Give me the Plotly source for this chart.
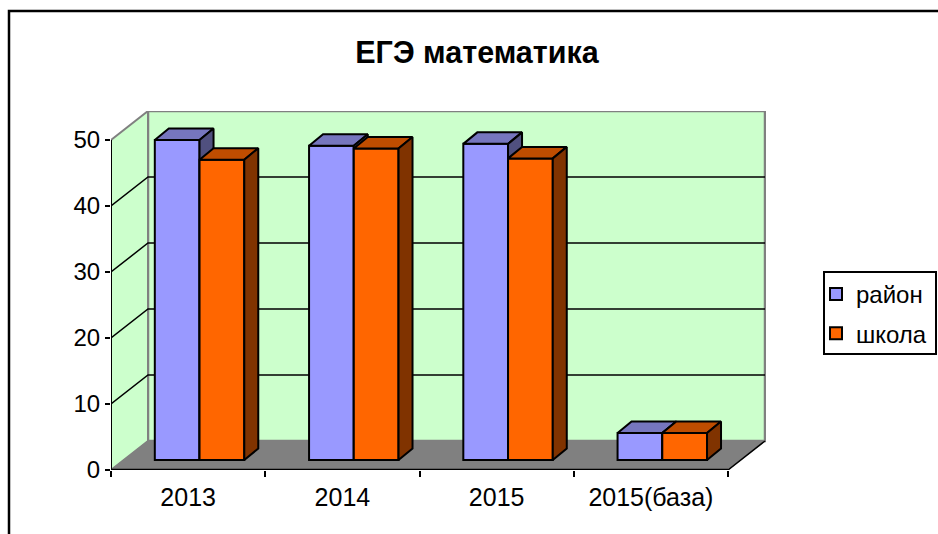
import plotly.graph_objects as go

categories = ["2013", "2014", "2015", "2015(база)"]
rayon = [48.5, 47.6, 47.9, 4.1]
shkola = [45.5, 47.2, 45.7, 4.1]
y_ticks = [0, 10, 20, 30, 40, 50]

# plot geometry in pixels
L, R, T, B = 111, 766, 111, 470
PX_X, PX_Y = 154.25, 6.6
WALL_DX, WALL_DY = 37 / PX_X, 29 / PX_Y
BAR_DX, BAR_DY = 14 / PX_X, 11.5 / PX_Y
BASE = 10 / PX_Y
BAR_W = 0.29
BAR_LEFT = 0.284
X_MAX = (R - L) / PX_X
Y_MAX = (B - T) / PX_Y
N = len(categories)
TOP = max(y_ticks)
FONT = "Liberation Sans, Arial, sans-serif"
WALL, GREY = "#CCFFCC", "#808080"
BLACK = "#000000"

fig = go.Figure()


def poly(xs, ys, fill, line=BLACK, w=2, xa="x", ya="y"):
    fig.add_trace(go.Scatter(x=xs, y=ys, mode="lines", fill="toself", fillcolor=fill,
                             line=dict(color=line, width=w), showlegend=False,
                             hoverinfo="skip", xaxis=xa, yaxis=ya, cliponaxis=False))


def line(xs, ys, color=BLACK, w=2):
    fig.add_trace(go.Scatter(x=xs, y=ys, mode="lines", line=dict(color=color, width=w),
                             showlegend=False, hoverinfo="skip", cliponaxis=False))


# walls and floor
poly([WALL_DX, N + WALL_DX, N + WALL_DX, WALL_DX, WALL_DX],
     [WALL_DY, WALL_DY, TOP + WALL_DY, TOP + WALL_DY, WALL_DY], WALL, GREY, 2.5)
poly([0, WALL_DX, WALL_DX, 0, 0], [0, WALL_DY, TOP + WALL_DY, TOP, 0], WALL, GREY, 2)
poly([0, N, N + WALL_DX, WALL_DX, 0], [0, 0, WALL_DY, WALL_DY, 0], GREY, GREY, 1)
for v in y_ticks[1:-1]:
    line([0, WALL_DX, N + WALL_DX], [v, v + WALL_DY, v + WALL_DY], BLACK, 1.5)
line([N, N + WALL_DX], [0, WALL_DY], BLACK, 1.5)
line([0, 0], [0, TOP], BLACK, 2)
line([0, N], [0, 0], BLACK, 2.5)


def series(values, name, front, top, side, shift, xa, ya):
    xs = [i + BAR_LEFT + shift * BAR_W + BAR_W / 2 for i in range(N)]
    fig.add_trace(go.Bar(x=xs, y=values, base=BASE, width=BAR_W, name=name,
                         marker=dict(color=front, line=dict(color=BLACK, width=2)),
                         legendgroup=name, hoverinfo="skip", xaxis=xa, yaxis=ya))
    for xc, v in zip(xs, values):
        x0, x1 = xc - BAR_W / 2, xc + BAR_W / 2
        yt = BASE + v
        poly([x0, x1, x1 + BAR_DX, x0 + BAR_DX, x0],
             [yt, yt, yt + BAR_DY, yt + BAR_DY, yt], top, xa=xa, ya=ya)
        poly([x1, x1 + BAR_DX, x1 + BAR_DX, x1, x1],
             [BASE, BASE + BAR_DY, yt + BAR_DY, yt, BASE], side, xa=xa, ya=ya)


series(rayon, "район", "#9999FF", "#7676BE", "#50507F", 0, "x2", "y2")
series(shkola, "школа", "#FF6600", "#BF4D00", "#803300", 1, "x3", "y3")


def px(x):
    return (x - L) / (R - L)


def py(y):
    return (B - y) / (B - T)


fig.update_layout(
    width=938, height=534,
    margin=dict(l=L, r=938 - R, t=T, b=534 - B, autoexpand=False),
    paper_bgcolor="white", plot_bgcolor="white",
    font=dict(family=FONT, size=24, color=BLACK),
    title=dict(text="<b>ЕГЭ математика</b>", x=477 / 938, xanchor="center", xref="container",
               y=1 - 52 / 534, yanchor="middle", yref="container",
               font=dict(family=FONT, size=30.5, color=BLACK)),
    barmode="overlay",
    showlegend=True,
    legend=dict(x=px(824), xanchor="left", y=py(272), yanchor="top", indentation=-8,
                bgcolor="rgba(0,0,0,0)", borderwidth=0,
                tracegroupgap=5, font=dict(family=FONT, size=24, color=BLACK)),
    xaxis=dict(range=[0, X_MAX], tickvals=[i + 0.5 for i in range(N)], ticktext=categories,
               showgrid=False, zeroline=False, showline=False, ticks="", ticklabelstandoff=10,
               tickfont=dict(family=FONT, size=25, color=BLACK),
               minor=dict(tickmode="array", tickvals=list(range(N + 1)), ticks="outside",
                          ticklen=6, tickwidth=2, tickcolor=BLACK, showgrid=False)),
    yaxis=dict(range=[0, Y_MAX], tickvals=y_ticks, showgrid=False, zeroline=False,
               showline=False, ticks="outside", ticklen=5, tickwidth=2, tickcolor=BLACK),
    xaxis2=dict(range=[0, X_MAX], overlaying="x", visible=False),
    yaxis2=dict(range=[0, Y_MAX], overlaying="y", visible=False),
    xaxis3=dict(range=[0, X_MAX], overlaying="x", visible=False),
    yaxis3=dict(range=[0, Y_MAX], overlaying="y", visible=False),
    shapes=[dict(type="path", xref="paper", yref="paper",
                 path=f"M {px(9)} {py(534)} L {px(9)} {py(11)} L {px(938)} {py(11)}",
                 line=dict(color=BLACK, width=2.5)),
            dict(type="rect", xref="paper", yref="paper", x0=px(824), x1=px(936),
                 y0=py(354), y1=py(272), line=dict(color=BLACK, width=2), fillcolor="white")],
)

fig.write_html("out.html", post_script="document.body.style.margin='0';",
               config={"displayModeBar": False})
